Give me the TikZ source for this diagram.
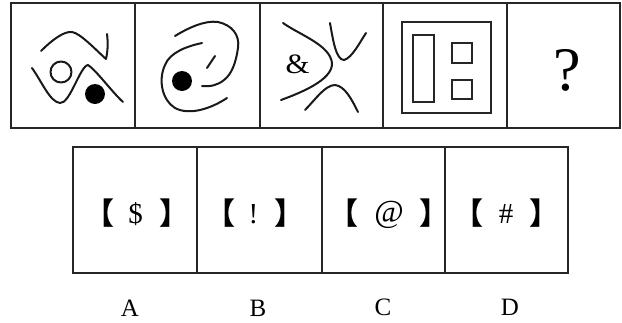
\documentclass[tikz,border=0pt]{standalone}
\usepackage{fontspec}
\setmainfont{Liberation Serif}
\newfontfamily\cjk{Noto Sans CJK SC}
\begin{document}
\begin{tikzpicture}[x=1pt,y=-1pt,
  frame/.style={draw=black!85,line width=2pt},
  stroke/.style={draw=black!90,line width=2pt,line cap=round,line join=round},
  brk/.style={inner sep=0pt,font=\cjk\bfseries\fontsize{30}{30}\selectfont},
  sym/.style={inner sep=0pt,font=\fontsize{29}{29}\selectfont},
  lbl/.style={inner sep=0pt,font=\fontsize{25}{25}\selectfont}]
\useasboundingbox (0,0) rectangle (622,322);
% top row frames
\draw[frame] (11,3) rectangle (620,128);
\foreach \x in {135,260,383,507} \draw[frame] (\x,3) -- (\x,128);
% bottom row frames
\draw[frame] (73,147) rectangle (568,273);
\foreach \x in {197,322,445} \draw[frame] (\x,147) -- (\x,273);

% figure 1
\draw[stroke] (41,51) .. controls (52,40) and (64,31) .. (72,32) .. controls (80,33) and (96,50) .. (106,59) .. controls (108,50) and (108,42) .. (107,34);
\draw[stroke] (61,72) circle (10.5);
\draw[stroke] (32,68) .. controls (42,82) and (50,102) .. (60,103) .. controls (70,104) and (80,66) .. (88,65) .. controls (96,70) and (112,92) .. (123,102);
\fill[black] (95,94) circle (10);

% figure 2
\draw[stroke] (175,36) .. controls (188,28) and (205,20) .. (218,22) .. controls (232,25) and (240,35) .. (238,48) .. controls (236,62) and (232,74) .. (224,80) .. controls (218,85) and (210,87) .. (202,86);
\draw[stroke] (202,43) .. controls (188,46) and (170,52) .. (165,65) .. controls (158,80) and (162,100) .. (175,108) .. controls (190,116) and (212,108) .. (227,98);
\draw[stroke] (207,68) -- (215,56);
\fill[black] (182,81) circle (10);

% figure 3
\draw[stroke] (283,23) .. controls (300,35) and (330,45) .. (332,63) .. controls (333,80) and (300,93) .. (281,100);
\draw[stroke] (330,23) .. controls (333,40) and (336,60) .. (344,60) .. controls (352,58) and (360,42) .. (366,33);
\draw[stroke] (305,110) .. controls (315,100) and (325,85) .. (335,85) .. controls (345,86) and (352,100) .. (358,112);
\node[inner sep=0pt,font=\fontsize{28}{28}\selectfont,xscale=1.1] (amp) at (297.5,64) {\&};

% figure 4
\draw[frame] (402,22) rectangle (491,113);
\draw[frame] (413,35) rectangle (434,102);
\draw[frame] (452,43) rectangle (472,63);
\draw[frame] (452,80) rectangle (472,99);

% figure 5
\node[inner sep=0pt,font=\fontsize{62}{62}\selectfont] (q) at (567,70) {?};

% options
\node[brk] (al) at (99,213) {【};
\node[sym] (as) at (135.5,214) {\$};
\node[brk] (ar) at (174,213) {】};
\node[brk] (bl) at (220,213) {【};
\node[sym] (bs) at (253.5,214) {!};
\node[brk] (br) at (289,213) {】};
\node[brk] (cl) at (343.5,213) {【};
\node[sym,font=\fontsize{32}{32}\selectfont] (cs) at (389,215) {@};
\node[brk] (cr) at (434,213) {】};
\node[brk] (dl) at (468,213) {【};
\node[sym] (ds) at (506,214) {\#};
\node[brk] (dr) at (544,213) {】};

% labels
\node[lbl] (la) at (130,308) {A};
\node[lbl] (lb) at (258,308) {B};
\node[lbl] (lc) at (383,307) {C};
\node[lbl] (ld) at (510,307) {D};
\end{tikzpicture}
\end{document}
